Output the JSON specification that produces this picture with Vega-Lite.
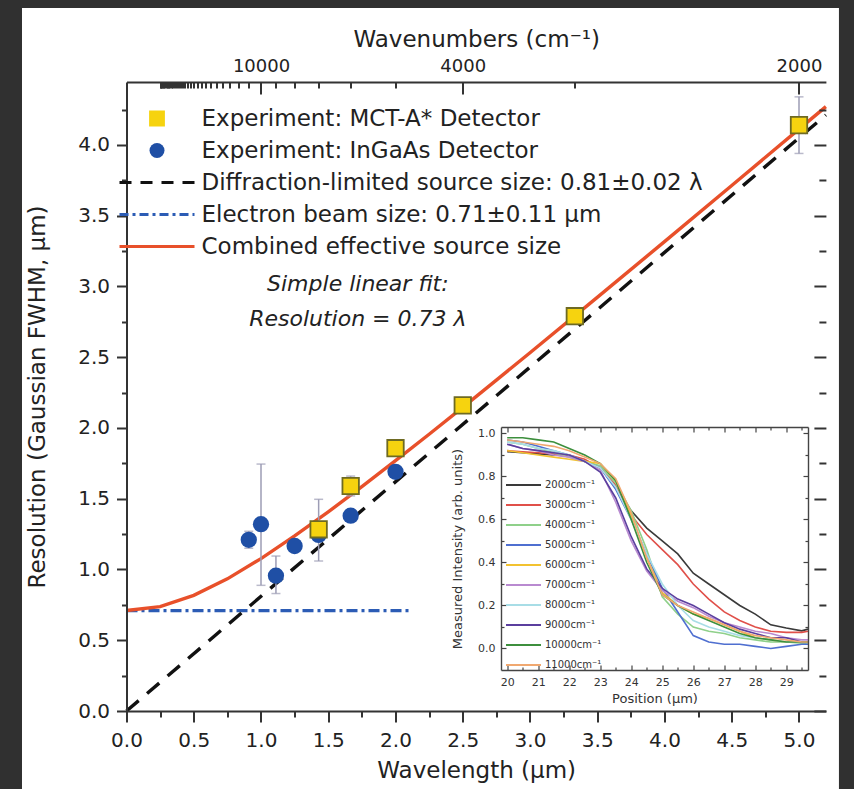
{
  "$schema": "https://vega.github.io/schema/vega-lite/v6.json",
  "background": "#303030",
  "width": 699.4,
  "height": 629,
  "autosize": {"type": "none"},
  "padding": {"left": 126.5, "top": 82, "right": 28.1, "bottom": 78},
  "config": {"view": {"stroke": null}, "font": "DejaVu Sans", "axis": {"zindex": 1, "grid": false}, "legend": {"zindex": 1}},
  "resolve": {"scale": {"x": "independent", "y": "independent", "color": "independent"}},
  "datasets": {
    "main": [
      {"s":"d","x":0,"y":0.71},{"s":"d","x":2.11,"y":0.71},
      {"s":"c","x":0,"y":0},{"s":"c","x":5.2,"y":4.212},
      {"s":"e","x":0,"y":0.71},{"s":"e","x":0.25,"y":0.738},{"s":"e","x":0.5,"y":0.817},{"s":"e","x":0.75,"y":0.934},{"s":"e","x":1.0,"y":1.077},{"s":"e","x":1.25,"y":1.237},{"s":"e","x":1.5,"y":1.407},{"s":"e","x":1.75,"y":1.585},{"s":"e","x":2.0,"y":1.769},{"s":"e","x":2.25,"y":1.956},{"s":"e","x":2.5,"y":2.146},{"s":"e","x":2.75,"y":2.338},{"s":"e","x":3.0,"y":2.532},{"s":"e","x":3.5,"y":2.923},{"s":"e","x":4.0,"y":3.317},{"s":"e","x":4.5,"y":3.714},{"s":"e","x":5.0,"y":4.112},{"s":"e","x":5.2,"y":4.271},
      {"s":"a","x":1.4286,"y":1.284},{"s":"a","x":1.6667,"y":1.59},{"s":"a","x":2,"y":1.857},{"s":"a","x":2.5,"y":2.16},{"s":"a","x":3.3333,"y":2.79},{"s":"a","x":5,"y":4.14},
      {"s":"b","x":0.9091,"y":1.21},{"s":"b","x":1,"y":1.32},{"s":"b","x":1.1111,"y":0.956},{"s":"b","x":1.25,"y":1.166},{"s":"b","x":1.4286,"y":1.244},{"s":"b","x":1.6667,"y":1.38},{"s":"b","x":2,"y":1.69}
    ],
    "err": [
      {"x":0.9091,"lo":1.15,"hi":1.27},{"x":1,"lo":0.888,"hi":1.745},{"x":1.1111,"lo":0.83,"hi":1.095},{"x":1.4286,"lo":1.06,"hi":1.496},{"x":1.6667,"lo":1.52,"hi":1.66},{"x":5,"lo":3.94,"hi":4.34}
    ],
    "note": [
      {"x":1.72,"y":3.02,"t":"Simple linear fit:"},
      {"x":1.72,"y":2.77,"t":"Resolution = 0.73 λ"}
    ],
    "inset": [
      {"w":"2000","x":20,"y":0.915},{"w":"2000","x":20.5,"y":0.91},{"w":"2000","x":21,"y":0.905},{"w":"2000","x":21.5,"y":0.9},{"w":"2000","x":22,"y":0.895},{"w":"2000","x":22.5,"y":0.87},{"w":"2000","x":23,"y":0.84},{"w":"2000","x":23.5,"y":0.75},{"w":"2000","x":24,"y":0.64},{"w":"2000","x":24.5,"y":0.56},{"w":"2000","x":25,"y":0.5},{"w":"2000","x":25.5,"y":0.44},{"w":"2000","x":26,"y":0.35},{"w":"2000","x":26.5,"y":0.3},{"w":"2000","x":27,"y":0.25},{"w":"2000","x":27.5,"y":0.2},{"w":"2000","x":28,"y":0.16},{"w":"2000","x":28.5,"y":0.11},{"w":"2000","x":29,"y":0.095},{"w":"2000","x":29.5,"y":0.082},{"w":"2000","x":29.7,"y":0.09},
      {"w":"3000","x":20,"y":0.92},{"w":"3000","x":20.5,"y":0.915},{"w":"3000","x":21,"y":0.91},{"w":"3000","x":21.5,"y":0.905},{"w":"3000","x":22,"y":0.9},{"w":"3000","x":22.5,"y":0.88},{"w":"3000","x":23,"y":0.84},{"w":"3000","x":23.5,"y":0.76},{"w":"3000","x":24,"y":0.62},{"w":"3000","x":24.5,"y":0.53},{"w":"3000","x":25,"y":0.46},{"w":"3000","x":25.5,"y":0.39},{"w":"3000","x":26,"y":0.3},{"w":"3000","x":26.5,"y":0.23},{"w":"3000","x":27,"y":0.17},{"w":"3000","x":27.5,"y":0.13},{"w":"3000","x":28,"y":0.1},{"w":"3000","x":28.5,"y":0.08},{"w":"3000","x":29,"y":0.075},{"w":"3000","x":29.5,"y":0.075},{"w":"3000","x":29.7,"y":0.08},
      {"w":"4000","x":20,"y":0.96},{"w":"4000","x":20.5,"y":0.95},{"w":"4000","x":21,"y":0.93},{"w":"4000","x":21.5,"y":0.91},{"w":"4000","x":22,"y":0.89},{"w":"4000","x":22.5,"y":0.87},{"w":"4000","x":23,"y":0.85},{"w":"4000","x":23.5,"y":0.77},{"w":"4000","x":24,"y":0.64},{"w":"4000","x":24.5,"y":0.46},{"w":"4000","x":25,"y":0.24},{"w":"4000","x":25.5,"y":0.16},{"w":"4000","x":26,"y":0.1},{"w":"4000","x":26.5,"y":0.08},{"w":"4000","x":27,"y":0.07},{"w":"4000","x":27.5,"y":0.05},{"w":"4000","x":28,"y":0.04},{"w":"4000","x":28.5,"y":0.03},{"w":"4000","x":29,"y":0.03},{"w":"4000","x":29.5,"y":0.025},{"w":"4000","x":29.7,"y":0.02},
      {"w":"5000","x":20,"y":0.97},{"w":"5000","x":20.5,"y":0.96},{"w":"5000","x":21,"y":0.94},{"w":"5000","x":21.5,"y":0.92},{"w":"5000","x":22,"y":0.9},{"w":"5000","x":22.5,"y":0.87},{"w":"5000","x":23,"y":0.84},{"w":"5000","x":23.5,"y":0.74},{"w":"5000","x":24,"y":0.6},{"w":"5000","x":24.5,"y":0.44},{"w":"5000","x":25,"y":0.28},{"w":"5000","x":25.5,"y":0.17},{"w":"5000","x":26,"y":0.06},{"w":"5000","x":26.5,"y":0.03},{"w":"5000","x":27,"y":0.02},{"w":"5000","x":27.5,"y":0.02},{"w":"5000","x":28,"y":0.01},{"w":"5000","x":28.5,"y":0.0},{"w":"5000","x":29,"y":0.01},{"w":"5000","x":29.5,"y":0.02},{"w":"5000","x":29.7,"y":0.02},
      {"w":"6000","x":20,"y":0.92},{"w":"6000","x":20.5,"y":0.91},{"w":"6000","x":21,"y":0.9},{"w":"6000","x":21.5,"y":0.89},{"w":"6000","x":22,"y":0.88},{"w":"6000","x":22.5,"y":0.87},{"w":"6000","x":23,"y":0.86},{"w":"6000","x":23.5,"y":0.78},{"w":"6000","x":24,"y":0.62},{"w":"6000","x":24.5,"y":0.42},{"w":"6000","x":25,"y":0.26},{"w":"6000","x":25.5,"y":0.2},{"w":"6000","x":26,"y":0.16},{"w":"6000","x":26.5,"y":0.14},{"w":"6000","x":27,"y":0.11},{"w":"6000","x":27.5,"y":0.08},{"w":"6000","x":28,"y":0.05},{"w":"6000","x":28.5,"y":0.04},{"w":"6000","x":29,"y":0.03},{"w":"6000","x":29.5,"y":0.03},{"w":"6000","x":29.7,"y":0.03},
      {"w":"7000","x":20,"y":0.95},{"w":"7000","x":20.5,"y":0.93},{"w":"7000","x":21,"y":0.92},{"w":"7000","x":21.5,"y":0.9},{"w":"7000","x":22,"y":0.89},{"w":"7000","x":22.5,"y":0.87},{"w":"7000","x":23,"y":0.83},{"w":"7000","x":23.5,"y":0.68},{"w":"7000","x":24,"y":0.5},{"w":"7000","x":24.5,"y":0.36},{"w":"7000","x":25,"y":0.27},{"w":"7000","x":25.5,"y":0.22},{"w":"7000","x":26,"y":0.19},{"w":"7000","x":26.5,"y":0.15},{"w":"7000","x":27,"y":0.12},{"w":"7000","x":27.5,"y":0.1},{"w":"7000","x":28,"y":0.08},{"w":"7000","x":28.5,"y":0.07},{"w":"7000","x":29,"y":0.05},{"w":"7000","x":29.5,"y":0.04},{"w":"7000","x":29.7,"y":0.04},
      {"w":"8000","x":20,"y":0.96},{"w":"8000","x":20.5,"y":0.95},{"w":"8000","x":21,"y":0.93},{"w":"8000","x":21.5,"y":0.92},{"w":"8000","x":22,"y":0.9},{"w":"8000","x":22.5,"y":0.87},{"w":"8000","x":23,"y":0.84},{"w":"8000","x":23.5,"y":0.75},{"w":"8000","x":24,"y":0.6},{"w":"8000","x":24.5,"y":0.44},{"w":"8000","x":25,"y":0.3},{"w":"8000","x":25.5,"y":0.2},{"w":"8000","x":26,"y":0.13},{"w":"8000","x":26.5,"y":0.1},{"w":"8000","x":27,"y":0.08},{"w":"8000","x":27.5,"y":0.06},{"w":"8000","x":28,"y":0.05},{"w":"8000","x":28.5,"y":0.04},{"w":"8000","x":29,"y":0.03},{"w":"8000","x":29.5,"y":0.03},{"w":"8000","x":29.7,"y":0.03},
      {"w":"9000","x":20,"y":0.95},{"w":"9000","x":20.5,"y":0.93},{"w":"9000","x":21,"y":0.92},{"w":"9000","x":21.5,"y":0.91},{"w":"9000","x":22,"y":0.9},{"w":"9000","x":22.5,"y":0.87},{"w":"9000","x":23,"y":0.82},{"w":"9000","x":23.5,"y":0.7},{"w":"9000","x":24,"y":0.52},{"w":"9000","x":24.5,"y":0.37},{"w":"9000","x":25,"y":0.28},{"w":"9000","x":25.5,"y":0.23},{"w":"9000","x":26,"y":0.2},{"w":"9000","x":26.5,"y":0.16},{"w":"9000","x":27,"y":0.12},{"w":"9000","x":27.5,"y":0.09},{"w":"9000","x":28,"y":0.07},{"w":"9000","x":28.5,"y":0.05},{"w":"9000","x":29,"y":0.05},{"w":"9000","x":29.5,"y":0.03},{"w":"9000","x":29.7,"y":0.03},
      {"w":"10000","x":20,"y":0.98},{"w":"10000","x":20.5,"y":0.98},{"w":"10000","x":21,"y":0.97},{"w":"10000","x":21.5,"y":0.96},{"w":"10000","x":22,"y":0.93},{"w":"10000","x":22.5,"y":0.9},{"w":"10000","x":23,"y":0.86},{"w":"10000","x":23.5,"y":0.78},{"w":"10000","x":24,"y":0.6},{"w":"10000","x":24.5,"y":0.4},{"w":"10000","x":25,"y":0.25},{"w":"10000","x":25.5,"y":0.2},{"w":"10000","x":26,"y":0.16},{"w":"10000","x":26.5,"y":0.13},{"w":"10000","x":27,"y":0.1},{"w":"10000","x":27.5,"y":0.07},{"w":"10000","x":28,"y":0.05},{"w":"10000","x":28.5,"y":0.04},{"w":"10000","x":29,"y":0.03},{"w":"10000","x":29.5,"y":0.03},{"w":"10000","x":29.7,"y":0.03},
      {"w":"11000","x":20,"y":0.97},{"w":"11000","x":20.5,"y":0.96},{"w":"11000","x":21,"y":0.95},{"w":"11000","x":21.5,"y":0.94},{"w":"11000","x":22,"y":0.92},{"w":"11000","x":22.5,"y":0.89},{"w":"11000","x":23,"y":0.86},{"w":"11000","x":23.5,"y":0.79},{"w":"11000","x":24,"y":0.63},{"w":"11000","x":24.5,"y":0.42},{"w":"11000","x":25,"y":0.25},{"w":"11000","x":25.5,"y":0.2},{"w":"11000","x":26,"y":0.17},{"w":"11000","x":26.5,"y":0.14},{"w":"11000","x":27,"y":0.11},{"w":"11000","x":27.5,"y":0.08},{"w":"11000","x":28,"y":0.06},{"w":"11000","x":28.5,"y":0.05},{"w":"11000","x":29,"y":0.04},{"w":"11000","x":29.5,"y":0.03},{"w":"11000","x":29.7,"y":0.03}
    ]
  },
  "layer": [
    {
      "resolve": {"axis": {"x": "independent", "y": "independent"}},
      "layer": [
        {
          "data": {"values": [{}]},
          "mark": {"type": "rect", "color": "white", "clip": false},
          "encoding": {
            "x": {"datum": -0.777, "type": "quantitative",
              "scale": {"domain": [0, 5.2], "nice": false, "zero": false},
              "axis": {"orient": "bottom", "values": [0,0.25,0.5,0.75,1,1.25,1.5,1.75,2,2.25,2.5,2.75,3,3.25,3.5,3.75,4,4.25,4.5,4.75,5],
                "labelExpr": "datum.value % 0.5 === 0 ? format(datum.value, '.1f') : ''",
                "labelOverlap": false, "labelFlush": false,
                "tickSize": {"condition": {"test": "datum.value % 0.5 === 0", "value": 11}, "value": 6},
                "tickColor": "#333", "tickWidth": 2, "domainColor": "#333", "domainWidth": 2,
                "labelFontSize": 20, "labelColor": "#222", "labelPadding": 8,
                "title": "Wavelength (µm)", "titleFontSize": 23, "titleFontWeight": "normal", "titleColor": "#222", "titlePadding": 9, "zindex": 1}},
            "x2": {"datum": 5.297},
            "y": {"datum": -0.551, "type": "quantitative",
              "scale": {"domain": [0, 4.445], "nice": false, "zero": false},
              "axis": {"orient": "left", "values": [0,0.25,0.5,0.75,1,1.25,1.5,1.75,2,2.25,2.5,2.75,3,3.25,3.5,3.75,4,4.25],
                "labelExpr": "datum.value % 0.5 === 0 ? format(datum.value, '.1f') : ''",
                "labelOverlap": false, "labelFlush": false,
                "tickSize": {"condition": {"test": "datum.value % 0.5 === 0", "value": 10}, "value": 5},
                "tickColor": "#333", "tickWidth": 2, "domainColor": "#333", "domainWidth": 2,
                "labelFontSize": 20, "labelColor": "#222", "labelPadding": 7,
                "title": "Resolution (Gaussian FWHM, µm)", "titleFontSize": 23, "titleFontWeight": "normal", "titleColor": "#222", "titlePadding": 28, "zindex": 1}},
            "y2": {"datum": 4.968}
          }
        },
        {
          "data": {"name": "main"},
          "transform": [{"filter": "datum.s === 'd'"}],
          "mark": {"type": "line", "strokeWidth": 3.2, "strokeDash": [11, 4, 3, 4]},
          "encoding": {
            "x": {"field": "x", "type": "quantitative", "axis": null},
            "y": {"field": "y", "type": "quantitative", "axis": null},
            "color": {"field": "s", "type": "nominal",
              "scale": {"domain": ["a","b","c","d","e"], "range": ["#f6d30f","#1f4fa5","#111111","#2c5cb5","#e8502a"]},
              "legend": {"orient": "none", "legendX": 19, "legendY": 25, "title": null, "padding": 0,
                "labelFontSize": 23, "labelColor": "#222", "labelFont": "DejaVu Sans", "labelLimit": 800,
                "rowPadding": 8, "symbolSize": 225, "labelOffset": 33, "zindex": 1,
                "labelExpr": "datum.value === 'a' ? 'Experiment: MCT-A* Detector' : datum.value === 'b' ? 'Experiment: InGaAs Detector' : datum.value === 'c' ? 'Diffraction-limited source size: 0.81±0.02 λ' : datum.value === 'd' ? 'Electron beam size: 0.71±0.11 µm' : 'Combined effective source size'",
                "encode": {"symbols": {"update": {
                  "shape": {"signal": "datum.value === 'a' ? 'square' : datum.value === 'b' ? 'circle' : 'M-5,0L5,0'"},
                  "size": {"signal": "datum.value === 'a' ? 196 : 225"},
                  "fill": {"signal": "datum.value === 'a' ? '#f6d30f' : datum.value === 'b' ? '#1f4fa5' : 'transparent'"},
                  "stroke": {"signal": "datum.value === 'a' ? '#6e6a22' : datum.value === 'b' ? '#1f4fa5' : datum.value === 'c' ? '#111111' : datum.value === 'd' ? '#2c5cb5' : '#e8502a'"},
                  "strokeWidth": {"signal": "datum.value === 'a' ? 1.8 : datum.value === 'b' ? 0 : 3"},
                  "strokeDash": {"signal": "datum.value === 'c' ? [12,9] : datum.value === 'd' ? [9,4,3,4] : []"},
                  "opacity": {"value": 1}
                }}}
              }}
          }
        },
        {
          "data": {"name": "main"},
          "transform": [{"filter": "datum.s === 'c'"}],
          "mark": {"type": "line", "strokeWidth": 3.4, "strokeDash": [16, 11]},
          "encoding": {
            "x": {"field": "x", "type": "quantitative", "axis": null},
            "y": {"field": "y", "type": "quantitative", "axis": null},
            "color": {"field": "s", "type": "nominal"}
          }
        },
        {
          "data": {"name": "main"},
          "transform": [{"filter": "datum.s === 'e'"}],
          "mark": {"type": "line", "strokeWidth": 3.4},
          "encoding": {
            "x": {"field": "x", "type": "quantitative",
              "axis": {"orient": "top", "values": [5,3.3333,2.5,2,1.6667,1.4286,1.25,1.1111,1,0.9091,0.8333,0.7692,0.7143,0.6667,0.625,0.5882,0.5556,0.5263,0.5,0.4762,0.4545,0.4348,0.4167,0.4,0.3846,0.3704,0.3571,0.3448,0.3333,0.3226,0.3125,0.303,0.2941,0.2857,0.2778,0.2703,0.2632,0.2564,0.25],
                "labelExpr": "datum.value === 1 ? '10000' : datum.value === 2.5 ? '4000' : datum.value === 5 ? '2000' : ''",
                "labelOverlap": false, "labelFlush": false,
                "tickSize": {"condition": {"test": "datum.value === 1 || datum.value === 2.5 || datum.value === 5", "value": -12}, "value": -6},
                "tickColor": "#333", "tickWidth": 2, "domainColor": "#333", "domainWidth": 2,
                "labelFontSize": 18, "labelColor": "#222", "labelPadding": 19,
                "title": "Wavenumbers (cm⁻¹)", "titleFontSize": 23, "titleFontWeight": "normal", "titleColor": "#222", "titlePadding": 0, "zindex": 1}},
            "y": {"field": "y", "type": "quantitative",
              "axis": {"orient": "right", "values": [0,0.25,0.5,0.75,1,1.25,1.5,1.75,2,2.25,2.5,2.75,3,3.25,3.5,3.75,4,4.25],
                "labels": false, "domain": false, "title": null,
                "tickSize": {"condition": {"test": "datum.value % 0.5 === 0", "value": -12}, "value": -7},
                "tickColor": "#333", "tickWidth": 2, "zindex": 1}},
            "color": {"field": "s", "type": "nominal"}
          }
        },
        {
          "data": {"name": "err"},
          "mark": {"type": "rule", "color": "#9d9db5", "strokeWidth": 1.5},
          "encoding": {
            "x": {"field": "x", "type": "quantitative", "axis": null},
            "y": {"field": "lo", "type": "quantitative", "axis": null},
            "y2": {"field": "hi"}
          }
        },
        {
          "data": {"name": "err"},
          "mark": {"type": "tick", "orient": "horizontal", "color": "#9d9db5", "size": 9, "thickness": 1.5},
          "encoding": {
            "x": {"field": "x", "type": "quantitative", "axis": null},
            "y": {"field": "lo", "type": "quantitative", "axis": null}
          }
        },
        {
          "data": {"name": "err"},
          "mark": {"type": "tick", "orient": "horizontal", "color": "#9d9db5", "size": 9, "thickness": 1.5},
          "encoding": {
            "x": {"field": "x", "type": "quantitative", "axis": null},
            "y": {"field": "hi", "type": "quantitative", "axis": null}
          }
        },
        {
          "data": {"name": "main"},
          "transform": [{"filter": "datum.s === 'b'"}],
          "mark": {"type": "point", "shape": "circle", "filled": true, "size": 265, "opacity": 1, "strokeWidth": 0},
          "encoding": {
            "x": {"field": "x", "type": "quantitative", "axis": null},
            "y": {"field": "y", "type": "quantitative", "axis": null},
            "color": {"field": "s", "type": "nominal"}
          }
        },
        {
          "data": {"name": "main"},
          "transform": [{"filter": "datum.s === 'a'"}],
          "mark": {"type": "point", "shape": "square", "filled": true, "size": 270, "opacity": 1, "stroke": "#6e6a22", "strokeWidth": 1.8},
          "encoding": {
            "x": {"field": "x", "type": "quantitative", "axis": null},
            "y": {"field": "y", "type": "quantitative", "axis": null},
            "color": {"field": "s", "type": "nominal"}
          }
        },
        {
          "data": {"name": "note"},
          "mark": {"type": "text", "fontStyle": "italic", "fontSize": 22, "color": "#222", "align": "center", "baseline": "middle"},
          "encoding": {
            "x": {"field": "x", "type": "quantitative", "axis": null},
            "y": {"field": "y", "type": "quantitative", "axis": null},
            "text": {"field": "t"}
          }
        }
      ]
    },
    {
      "data": {"name": "inset"},
      "resolve": {"axis": {"x": "independent", "y": "independent"}},
      "layer": [
        {
          "mark": {"type": "line", "strokeWidth": 1.6},
          "encoding": {
            "x": {"field": "x", "type": "quantitative",
              "scale": {"domain": [19.8, 29.7], "range": [374.5, 681.5], "nice": false, "zero": false},
              "axis": {"orient": "bottom", "offset": -41, "values": [20,20.5,21,21.5,22,22.5,23,23.5,24,24.5,25,25.5,26,26.5,27,27.5,28,28.5,29,29.5],
                "labelExpr": "datum.value % 1 === 0 ? format(datum.value, 'd') : ''",
                "labelOverlap": false, "labelFlush": false,
                "tickSize": {"condition": {"test": "datum.value % 1 === 0", "value": -5}, "value": -3},
                "tickColor": "#444", "tickWidth": 1.2, "domainColor": "#444", "domainWidth": 1.4,
                "labelFontSize": 11, "labelColor": "#333", "labelPadding": 11,
                "title": "Position (µm)", "titleFontSize": 13, "titleFontWeight": "normal", "titleColor": "#333", "titlePadding": 3, "zindex": 1}},
            "y": {"field": "y", "type": "quantitative",
              "scale": {"domain": [-0.1, 1.03], "range": [588, 345], "nice": false, "zero": false},
              "axis": {"orient": "left", "offset": -374.5, "values": [0,0.1,0.2,0.3,0.4,0.5,0.6,0.7,0.8,0.9,1.0],
                "labelExpr": "round(datum.value * 10) % 2 === 0 ? format(datum.value, '.1f') : ''",
                "labelOverlap": false, "labelFlush": false,
                "tickSize": {"condition": {"test": "round(datum.value * 10) % 2 === 0", "value": -5}, "value": -3},
                "tickColor": "#444", "tickWidth": 1.2, "domainColor": "#444", "domainWidth": 1.4,
                "labelFontSize": 11, "labelColor": "#333", "labelPadding": 11,
                "title": "Measured Intensity (arb. units)", "titleFontSize": 13, "titleFontWeight": "normal", "titleColor": "#333", "titlePadding": 13, "zindex": 1}},
            "color": {"field": "w", "type": "nominal",
              "scale": {"domain": ["2000","3000","4000","5000","6000","7000","8000","9000","10000","11000"],
                "range": ["#3a3a3a","#e0504a","#8fd08a","#4f6fd0","#f2c230","#b98ad0","#a8dde6","#5b3f9e","#3d8f3d","#f0a870"]},
              "legend": {"orient": "none", "legendX": 389, "legendY": 395, "title": null, "padding": 0,
                "symbolType": "M-2.5,0L2.5,0", "symbolSize": 196, "symbolStrokeWidth": 2,
                "labelFontSize": 10, "labelColor": "#333", "rowPadding": 7, "labelOffset": 13.5,
                "labelExpr": "datum.value + 'cm⁻¹'", "zindex": 1}}
          }
        },
        {
          "mark": {"type": "point", "opacity": 0},
          "encoding": {
            "x": {"field": "x", "type": "quantitative",
              "axis": {"orient": "top", "offset": -345, "values": [20,20.5,21,21.5,22,22.5,23,23.5,24,24.5,25,25.5,26,26.5,27,27.5,28,28.5,29,29.5],
                "labels": false, "title": null,
                "tickSize": {"condition": {"test": "datum.value % 1 === 0", "value": -5}, "value": -3},
                "tickColor": "#444", "tickWidth": 1.2, "domainColor": "#444", "domainWidth": 1.4, "zindex": 1}},
            "y": {"field": "y", "type": "quantitative",
              "axis": {"orient": "right", "offset": -17.9, "values": [0,0.1,0.2,0.3,0.4,0.5,0.6,0.7,0.8,0.9,1.0],
                "labels": false, "title": null,
                "tickSize": {"condition": {"test": "round(datum.value * 10) % 2 === 0", "value": -5}, "value": -3},
                "tickColor": "#444", "tickWidth": 1.2, "domainColor": "#444", "domainWidth": 1.4, "zindex": 1}}
          }
        }
      ]
    }
  ]
}
